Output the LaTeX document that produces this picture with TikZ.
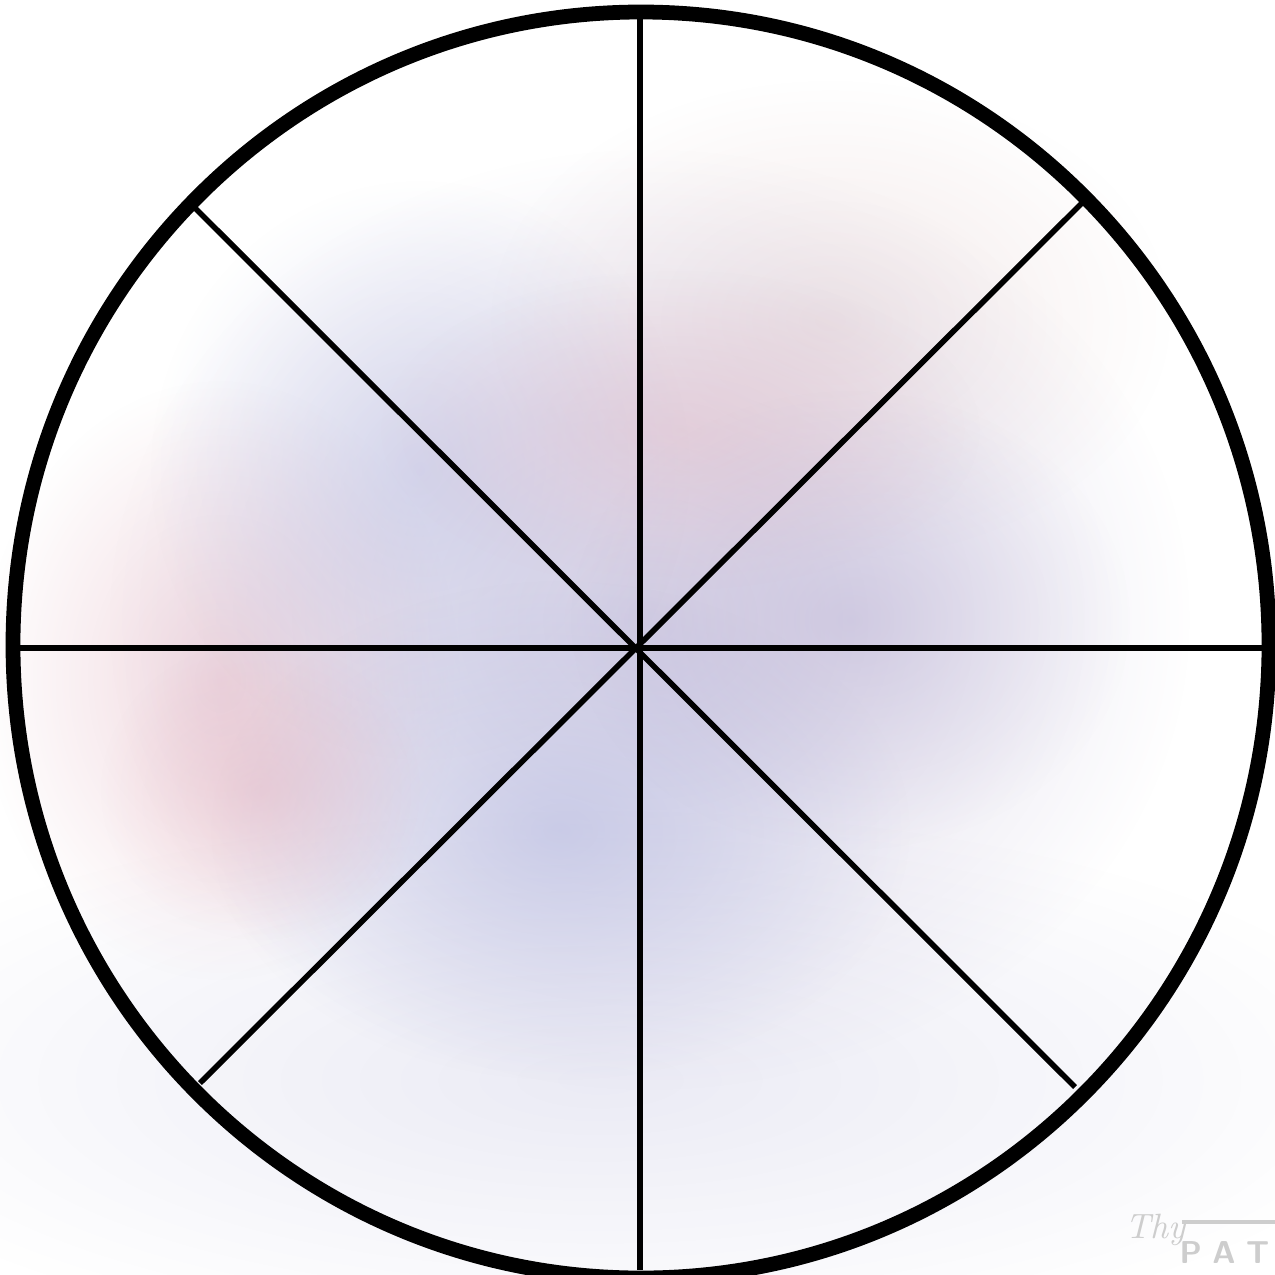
\documentclass[tikz,border=0pt]{standalone}
\usetikzlibrary{fadings}
\definecolor{lav}{RGB}{175,165,205}
\definecolor{pinkw}{RGB}{225,170,185}
\definecolor{bluew}{RGB}{165,172,220}
\definecolor{beige}{RGB}{225,200,200}
\definecolor{pale}{RGB}{205,205,230}
\definecolor{wm}{RGB}{205,205,205}
\tikzfading[name=softblob, inner color=transparent!0, outer color=transparent!100]
\tikzset{
  blob/.style={fill=#1, path fading=softblob, draw=none},
  rim/.style={line width=4.2pt},
  spoke/.style={line width=1.6pt}
}
\begin{document}
\begin{tikzpicture}[x=0.01cm,y=-0.01cm]
\useasboundingbox (0,0) rectangle (1275,1275);
\fill[white] (0,0) rectangle (1275,1275);
% watercolor wash
\fill[blob=pale, opacity=0.4] (600,1080) ellipse (800 and 270);
\fill[blob=beige, opacity=0.4] (830,320) ellipse (340 and 240);
\fill[blob=pinkw, opacity=0.45] (220,680) ellipse (240 and 300);
\fill[blob=lav, opacity=0.5] (650,620) ellipse (540 and 470);
\fill[blob=bluew, opacity=0.35] (420,470) ellipse (270 and 290);
\fill[blob=bluew, opacity=0.45] (560,830) ellipse (350 and 250);
\fill[blob=lav, opacity=0.4] (850,620) ellipse (280 and 230);
\fill[blob=pinkw, opacity=0.3] (680,430) ellipse (300 and 160);
\fill[blob=pinkw, opacity=0.35] (260,790) ellipse (160 and 150);
% wheel
\coordinate (c) at (638,648);
\coordinate (n) at (640,14);
\coordinate (s) at (640,1270);
\coordinate (w) at (14,648);
\coordinate (e) at (1268,648);
\coordinate (nw) at (192,205);
\coordinate (ne) at (1082,203);
\coordinate (sw) at (200,1083);
\coordinate (se) at (1075,1087);
\draw[spoke] (n) -- (s);
\draw[spoke] (w) -- (e);
\draw[spoke] (nw) -- (se);
\draw[spoke] (ne) -- (sw);
\draw[rim] (641,645) ellipse (628 and 633);
% watermark
\node[anchor=west, text=wm, font=\itshape, inner sep=0pt] (thy) at (1125,1230) {Thy};
\node[anchor=east, text=wm, font=\sffamily\bfseries\small, inner sep=0pt] (pat) at (1270,1253) {P\,\,A\,\,T};
\coordinate (wa) at (1182,1222);
\coordinate (wb) at (1275,1222);
\draw[wm, line width=1.1pt] (wa) -- (wb);
\end{tikzpicture}
\end{document}
